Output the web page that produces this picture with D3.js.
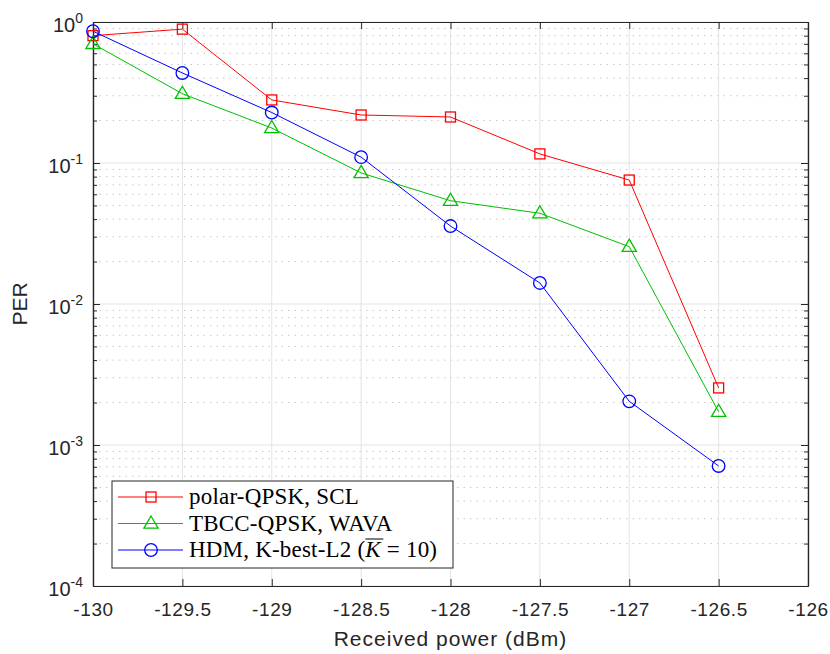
<!DOCTYPE html>
<html>
<head>
<meta charset="utf-8">
<script src="https://cdn.jsdelivr.net/npm/d3@7"></script>
<style>
  body { margin: 0; background: #fff; }
  svg { display: block; }
</style>
</head>
<body>
<svg id="chart" width="830" height="654"></svg>
<script>
// Received power grid (dBm)
const power = [-130, -129.5, -129, -128.5, -128, -127.5, -127, -126.5];

// PER per scheme
const perPolar = [0.8, 0.89, 0.28, 0.219, 0.212, 0.116, 0.0757, 0.00254];
const perTbcc  = [0.70, 0.31, 0.177, 0.085, 0.054, 0.044, 0.0255, 0.00172];
const perHdm   = [0.86, 0.435, 0.228, 0.11, 0.0357, 0.0141, 0.00204, 0.00071];

const seriesNames = ["polar-QPSK, SCL", "TBCC-QPSK, WAVA", "HDM, K-best-L2"];
const seriesColors = ["#ff0000", "#00c000", "#0000ff"];
const seriesMarkers = ["square", "triangle", "circle"];

const xTicks = [-130, -129.5, -129, -128.5, -128, -127.5, -127, -126.5, -126];
const xTickLabels = ["-130", "-129.5", "-129", "-128.5", "-128", "-127.5", "-127", "-126.5", "-126"];
const yExponents = [0, -1, -2, -3, -4];

const series = [perPolar, perTbcc, perHdm].map((vals, i) => ({
  name: seriesNames[i], color: seriesColors[i], marker: seriesMarkers[i],
  points: power.map((p, j) => ({ x: p, y: vals[j] }))
}));

const svg = d3.select("#chart");
const margin = { left: 93, right: 22, top: 22, bottom: 68 };
const W = 830, H = 654;
const pw = W - margin.left - margin.right;
const ph = H - margin.top - margin.bottom;

const x = d3.scaleLinear().domain([-130, -126]).range([margin.left, margin.left + pw]);
const y = d3.scaleLog().domain([1e-4, 1]).range([margin.top + ph, margin.top]);

const sansFont = "'Liberation Sans', Arial, Helvetica, sans-serif";
const serifFont = "'Liberation Serif', 'DejaVu Serif', serif";

// Grid: minor (dotted) then major (solid)
const grid = svg.append("g");
const minorY = [];
for (let e = -4; e < 0; e++) for (let m = 2; m <= 9; m++) minorY.push(m * Math.pow(10, e));
grid.selectAll("line.minor").data(minorY).join("line")
  .attr("x1", margin.left).attr("x2", margin.left + pw)
  .attr("y1", d => y(d)).attr("y2", d => y(d))
  .attr("stroke", "#c8c8c8").attr("stroke-width", 1)
  .attr("stroke-dasharray", "1.5,5");
grid.selectAll("line.majy").data(yExponents.map(e => Math.pow(10, e))).join("line")
  .attr("x1", margin.left).attr("x2", margin.left + pw)
  .attr("y1", d => y(d)).attr("y2", d => y(d))
  .attr("stroke", "#e3e3e3").attr("stroke-width", 1);
grid.selectAll("line.majx").data(xTicks).join("line")
  .attr("x1", d => x(d)).attr("x2", d => x(d))
  .attr("y1", margin.top).attr("y2", margin.top + ph)
  .attr("stroke", "#e3e3e3").attr("stroke-width", 1);

// Axes with inward ticks, mirrored on all four sides
const axisColor = "#262626";
const ax = svg.append("g");
const xAxisB = d3.axisBottom(x).tickValues(xTicks).tickSizeInner(-7).tickSizeOuter(0)
  .tickPadding(17).tickFormat((d, i) => xTickLabels[i]);
const gxb = ax.append("g").attr("transform", `translate(0,${margin.top + ph})`).call(xAxisB);
gxb.selectAll("text").attr("font-family", sansFont).attr("font-size", 19)
  .attr("letter-spacing", 0.6).attr("fill", axisColor);
ax.append("g").attr("transform", `translate(0,${margin.top})`)
  .call(d3.axisTop(x).tickValues(xTicks).tickSizeInner(-7).tickSizeOuter(0).tickFormat(""));

const yMajor = yExponents.map(e => Math.pow(10, e));
ax.append("g").attr("transform", `translate(${margin.left},0)`)
  .call(d3.axisLeft(y).tickValues(yMajor).tickSizeInner(-7).tickSizeOuter(0).tickFormat(""));
ax.append("g").attr("transform", `translate(${margin.left + pw},0)`)
  .call(d3.axisRight(y).tickValues(yMajor).tickSizeInner(-7).tickSizeOuter(0).tickFormat(""));
ax.append("g").attr("transform", `translate(${margin.left},0)`)
  .call(d3.axisLeft(y).tickValues(minorY).tickSizeInner(-4).tickSizeOuter(0).tickFormat(""));
ax.append("g").attr("transform", `translate(${margin.left + pw},0)`)
  .call(d3.axisRight(y).tickValues(minorY).tickSizeInner(-4).tickSizeOuter(0).tickFormat(""));
ax.selectAll(".domain").attr("stroke", axisColor).attr("stroke-width", 1.2);
ax.selectAll(".tick line").attr("stroke", axisColor).attr("stroke-width", 1);

// Y tick labels as 10 with superscript exponent
const ylab = svg.append("g");
yExponents.forEach(e => {
  const t = ylab.append("text")
    .attr("x", margin.left - 10).attr("y", y(Math.pow(10, e)) + 10)
    .attr("text-anchor", "end")
    .attr("font-family", sansFont).attr("font-size", 20).attr("fill", axisColor);
  t.append("tspan").text("10");
  t.append("tspan").attr("dy", -9).attr("font-size", 14).text(String(e));
});

// Axis titles
svg.append("text")
  .attr("x", margin.left + pw / 2).attr("y", H - 8)
  .attr("text-anchor", "middle")
  .attr("font-family", sansFont).attr("font-size", 21).attr("letter-spacing", 1)
  .attr("fill", axisColor)
  .text("Received power (dBm)");
svg.append("text")
  .attr("transform", `translate(27,${margin.top + ph / 2}) rotate(-90)`)
  .attr("text-anchor", "middle")
  .attr("font-family", sansFont).attr("font-size", 21).attr("fill", axisColor)
  .text("PER");

// Marker drawing
function drawMarker(g, type, cx, cy, color) {
  if (type === "square") {
    g.append("rect").attr("x", cx - 5).attr("y", cy - 5).attr("width", 10).attr("height", 10)
      .attr("fill", "none").attr("stroke", color).attr("stroke-width", 1.3);
  } else if (type === "triangle") {
    const r = 7.5;
    g.append("path")
      .attr("d", `M${cx},${cy - r} L${cx + r * 0.95},${cy + r * 0.62} L${cx - r * 0.95},${cy + r * 0.62} Z`)
      .attr("fill", "none").attr("stroke", color).attr("stroke-width", 1.3);
  } else {
    g.append("circle").attr("cx", cx).attr("cy", cy).attr("r", 6.3)
      .attr("fill", "none").attr("stroke", color).attr("stroke-width", 1.3);
  }
}

// Series lines and markers
const line = d3.line().x(d => x(d.x)).y(d => y(d.y));
const plot = svg.append("g");
series.forEach(s => {
  plot.append("path").datum(s.points).attr("d", line)
    .attr("fill", "none").attr("stroke", s.color).attr("stroke-width", 1);
});
series.forEach(s => {
  const g = plot.append("g");
  s.points.forEach(p => drawMarker(g, s.marker, x(p.x), y(p.y), s.color));
});

// Legend
const lg = svg.append("g");
const lx = 112, ly = 481, lw = 341, lh = 87;
lg.append("rect").attr("x", lx).attr("y", ly).attr("width", lw).attr("height", lh)
  .attr("fill", "#fff").attr("stroke", axisColor).attr("stroke-width", 1);
series.forEach((s, i) => {
  const cy = ly + 16 + i * 26.5;
  lg.append("line").attr("x1", lx + 6).attr("x2", lx + 71).attr("y1", cy).attr("y2", cy)
    .attr("stroke", s.color).attr("stroke-width", 1);
  drawMarker(lg, s.marker, lx + 39, cy, s.color);
  const t = lg.append("text").attr("x", lx + 77).attr("y", cy + 7)
    .attr("font-family", serifFont).attr("font-size", 23).attr("letter-spacing", 0.2)
    .attr("fill", "#000");
  t.append("tspan").text(s.name);
  if (i === 2) {
    t.append("tspan").text(" (");
    t.append("tspan").attr("font-style", "italic").attr("class", "kbar").text("K");
    t.append("tspan").text(" = 10)");
  }
});
// Overline on K
const kNode = lg.select(".kbar").node();
if (kNode) {
  const b = kNode.getBBox();
  lg.append("line").attr("x1", b.x + 1).attr("x2", b.x + b.width + 1)
    .attr("y1", b.y + 2).attr("y2", b.y + 2)
    .attr("stroke", "#000").attr("stroke-width", 1);
}
</script>
</body>
</html>
